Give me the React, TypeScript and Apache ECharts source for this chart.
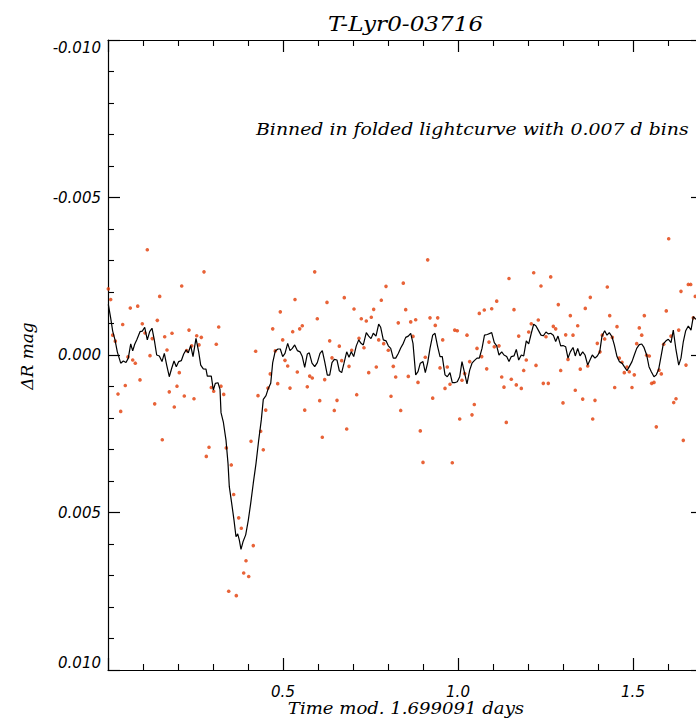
import React, { useEffect, useRef } from "react";
import * as echarts from "echarts";

const TITLE = "T-Lyr0-03716";
const NOTE = "Binned in folded lightcurve with 0.007 d bins";
const X_NAME = "Time mod. 1.699091 days";
const Y_NAME = "ΔR mag";

// individual binned points (phase-folded time [d], ΔR [mag])
const DOT_X = [
  0.0009, 0.0077, 0.0134, 0.0209, 0.0286, 0.0363, 0.042, 0.0494, 0.0571, 0.0637,
  0.0706, 0.078, 0.0849, 0.0914, 0.098, 0.1057, 0.1123, 0.12, 0.1266, 0.1334,
  0.1409, 0.1477, 0.1551, 0.162, 0.1686, 0.1751, 0.1829, 0.1894, 0.1971, 0.2037,
  0.2106, 0.218, 0.2249, 0.2314, 0.2391, 0.2457, 0.2534, 0.26, 0.2666, 0.2743,
  0.2809, 0.2886, 0.2951, 0.302, 0.3094, 0.3163, 0.3229, 0.3306, 0.338, 0.3449,
  0.3523, 0.3591, 0.3666, 0.3734, 0.3809, 0.3877, 0.3943, 0.402, 0.4086, 0.4151,
  0.422, 0.4286, 0.4363, 0.4437, 0.4506, 0.4571, 0.4637, 0.4706, 0.478, 0.4849,
  0.4923, 0.4991, 0.5057, 0.5134, 0.52, 0.5277, 0.5343, 0.5409, 0.5477, 0.5551,
  0.562, 0.5694, 0.5763, 0.5837, 0.5906, 0.598, 0.6049, 0.6123, 0.6191, 0.6257,
  0.6334, 0.64, 0.6466, 0.6543, 0.6609, 0.6677, 0.6751, 0.682, 0.6886, 0.6963,
  0.7029, 0.7106, 0.7171, 0.7237, 0.7314, 0.738, 0.7449, 0.7523, 0.7591, 0.7666,
  0.7734, 0.7809, 0.7877, 0.7943, 0.8009, 0.8086, 0.8151, 0.822, 0.8294, 0.8363,
  0.8437, 0.8506, 0.858, 0.8649, 0.8714, 0.8791, 0.8857, 0.8923, 0.9, 0.9066,
  0.9134, 0.92, 0.9277, 0.9351, 0.942, 0.9486, 0.9563, 0.9629, 0.9694, 0.9771,
  0.9837, 0.9906, 0.998, 1.0049, 1.0114, 1.0191, 1.0257, 1.0334, 1.04, 1.0466,
  1.0543, 1.0609, 1.0677, 1.0751, 1.082, 1.0886, 1.0963, 1.1037, 1.1106, 1.1171,
  1.1249, 1.1314, 1.138, 1.1457, 1.1523, 1.16, 1.1666, 1.1734, 1.1809, 1.1877,
  1.1951, 1.202, 1.2094, 1.2163, 1.2229, 1.2294, 1.2371, 1.2437, 1.2514, 1.258,
  1.2649, 1.2723, 1.2791, 1.2866, 1.2934, 1.3, 1.3077, 1.3143, 1.3209, 1.3286,
  1.3351, 1.342, 1.3494, 1.3563, 1.3637, 1.3706, 1.378, 1.3849, 1.3914, 1.398,
  1.4057, 1.4123, 1.4191, 1.4266, 1.4334, 1.4409, 1.4477, 1.4543, 1.4609, 1.4686,
  1.4751, 1.4829, 1.4894, 1.4971, 1.5037, 1.5106, 1.518, 1.5249, 1.5323, 1.5391,
  1.5466, 1.5534, 1.56, 1.5666, 1.5743, 1.5809, 1.5877, 1.5951, 1.602, 1.6086,
  1.6163, 1.6229, 1.6306, 1.6371, 1.6437, 1.6514, 1.658, 1.6649, 1.6723, 1.678,
];

const DOT_Y = [
  -0.0021, -0.00176, -0.00063, -0.00044, 0.00124, 0.00179, -0.00097, 0.00097, 0.00006, -0.00149,
  0.00016, 0.00026, -0.00155, 0.00079, -0.00099, -0.0007, -0.00334, 0.00002, -0.00052, 0.00155,
  -0.0011, -0.00186, 0.00269, -0.00058, -0.00016, 0.00117, -0.00069, 0.00165, 0.00099, 0.00056,
  -0.00219, 0.0013, -0.00014, -0.00079, -0.00029, 0.00139, -0.00061, -0.00032, -0.00056, -0.00264,
  0.00322, 0.00293, 0.00103, 0.00115, -0.00034, -0.00089, 0.00099, 0.00125, 0.00295, 0.0075,
  0.00349, 0.00443, 0.00764, 0.00517, 0.0055, 0.00692, 0.00653, 0.00703, 0.00274, 0.00605,
  -0.00012, 0.00129, 0.00242, 0.00301, 0.00175, 0.00105, 0.0006, -0.00083, -0.00013, 0.00091,
  -0.00137, -0.00048, 0.00017, 0.00035, 0.00105, -0.00074, -0.00176, 0.00054, -0.00083, -0.00093,
  0.00175, 0.00101, 0.00067, 0.00073, -0.00264, -0.00115, 0.00145, 0.00261, 0.00078, -0.00167,
  -0.00045, 0.00009, 0.00176, 0.00144, -0.00028, 0.00018, -0.00182, 0.00235, 0.00036, -0.00015,
  -0.00146, 0.00126, -0.00053, -0.00115, -0.00023, -0.00108, 0.00056, -0.0012, -0.00145, 0.00038,
  -0.00048, -0.00174, -0.00036, -0.00218, -0.00015, 0.00131, 0.00036, 0.0007, -0.00102, 0.00176,
  -0.00228, -0.00144, 0.00068, -0.00105, -0.00059, -0.00112, 0.00087, 0.00241, 0.00341, 0.00007,
  -0.00302, -0.00118, 0.00137, -0.00094, -0.00118, 0.00041, -0.00048, 0.00106, 0.00038, 0.00093,
  0.00342, -0.00079, -0.00077, 0.00203, 0.0008, 0.00059, -0.00063, 0.00021, 0.0019, 0.00157,
  -0.00021, -0.00132, 0.00005, -0.00143, 0.00044, -0.00041, -0.00147, -0.00026, -0.00171, -0.00029,
  0.0007, 0.00102, 0.00214, -0.00243, 0.00077, -0.00144, 0.00095, -0.0006, 0.00106, 0.00049,
  0.00016, -0.00073, -0.00099, -0.00261, 0.00033, -0.00111, -0.00219, 0.0009, -0.00058, 0.0009,
  -0.00248, -0.00091, -0.00083, -0.0016, 0.00049, 0.00152, -0.00064, 0.00014, -0.00125, -0.00063,
  0.00112, -0.00093, 0.00045, 0.0014, -0.00148, 0.00035, -0.00183, 0.00203, 0.00144, -0.00037,
  -0.0001, -0.00063, -0.00051, -0.00216, -0.00125, -0.00056, 0.00103, -0.0009, 0.0001, 0.00023,
  0.00056, 0.00038, 0.00053, 0.00103, 0.00063, -0.00036, -0.00086, -0.00063, -0.00125, 0.00001,
  0.00003, 0.0009, 0.00087, 0.00228, 0.00048, 0.0006, -0.00034, -0.0014, -0.00369, -0.0006,
  0.00151, 0.00139, -0.00079, -0.00202, 0.00271, 0.00032, -0.00224, -0.00224, -0.00118, -0.00186,
];

// smoothed binned light curve
const LINE_X = [
  0.0009, 0.0077, 0.0134, 0.02, 0.0266, 0.0363, 0.0437, 0.0514, 0.058, 0.0649,
  0.0706, 0.0763, 0.0829, 0.0914, 0.098, 0.1049, 0.1123, 0.1191, 0.1257, 0.1323,
  0.1391, 0.1466, 0.1543, 0.1609, 0.1677, 0.1751, 0.182, 0.1886, 0.1951, 0.202,
  0.2094, 0.2163, 0.2229, 0.2294, 0.2363, 0.2429, 0.2514, 0.2591, 0.2649, 0.2723,
  0.28, 0.2837, 0.2951, 0.3009, 0.3066, 0.3143, 0.32, 0.3229, 0.3294, 0.3371,
  0.3429, 0.3466, 0.3534, 0.36, 0.3657, 0.3706, 0.3751, 0.38, 0.3857, 0.3934,
  0.4009, 0.4077, 0.4151, 0.4229, 0.4306, 0.438, 0.4437, 0.4514, 0.458, 0.4649,
  0.4706, 0.478, 0.4857, 0.4923, 0.4991, 0.5057, 0.5134, 0.52, 0.5266, 0.5334,
  0.5409, 0.5486, 0.5551, 0.562, 0.5694, 0.5751, 0.5829, 0.5906, 0.598, 0.6057,
  0.6123, 0.6191, 0.6266, 0.6334, 0.64, 0.6466, 0.6543, 0.6609, 0.6677, 0.6743,
  0.682, 0.6886, 0.6951, 0.702, 0.7094, 0.7163, 0.7229, 0.7294, 0.738, 0.7449,
  0.7514, 0.758, 0.7657, 0.7734, 0.7791, 0.7866, 0.7943, 0.8009, 0.8077, 0.8151,
  0.822, 0.8294, 0.8363, 0.8437, 0.8506, 0.858, 0.8649, 0.8714, 0.8791, 0.8857,
  0.8923, 0.9, 0.9066, 0.9134, 0.92, 0.9277, 0.9343, 0.942, 0.9486, 0.9551,
  0.9629, 0.9694, 0.9771, 0.9837, 0.9906, 0.998, 1.0049, 1.0114, 1.0191, 1.0257,
  1.0334, 1.04, 1.0466, 1.0543, 1.0609, 1.0686, 1.0757, 1.0837, 1.0963, 1.1037,
  1.1106, 1.1171, 1.1249, 1.1314, 1.1391, 1.1457, 1.1523, 1.16, 1.1666, 1.1734,
  1.1809, 1.1877, 1.1951, 1.202, 1.2094, 1.2163, 1.2229, 1.2294, 1.2371, 1.2437,
  1.2514, 1.258, 1.2649, 1.2723, 1.2791, 1.2857, 1.2934, 1.3, 1.3077, 1.3143,
  1.3209, 1.3286, 1.3351, 1.342, 1.3486, 1.3563, 1.3629, 1.3706, 1.3771, 1.3837,
  1.3914, 1.398, 1.4049, 1.4114, 1.4191, 1.4257, 1.4323, 1.44, 1.4466, 1.4543,
  1.4609, 1.4686, 1.4751, 1.4829, 1.4894, 1.4971, 1.5037, 1.5106, 1.518, 1.5249,
  1.5314, 1.5391, 1.5457, 1.5523, 1.56, 1.5666, 1.5734, 1.58, 1.5866, 1.5943,
  1.6009, 1.6086, 1.6151, 1.6229, 1.6306, 1.6371, 1.6437, 1.6506, 1.658, 1.6657,
  1.6723, 1.68,
];

const LINE_Y = [
  -0.00161, -0.00117, -0.00076, -0.00048, -0.0001, 0.00026, 0.00019, 0.00024, 0.0001, -0.00035,
  -0.00013, -0.00034, -0.0005, -0.00074, -0.00076, -0.00088, -0.00048, -0.00074, -0.00085, -0.00048,
  0.0, 0.00003, 0.00021, -0.00005, 0.00032, 0.00069, 0.00042, 0.00019, 0.00037, 0.00021,
  0.00018, -0.00003, -0.00016, -0.00007, -0.0003, 0.00005, -0.00053, -0.0001, 0.00032, 0.00044,
  0.00045, 0.00067, 0.00067, 0.00111, 0.0009, 0.00088, 0.00109, 0.00183, 0.00212, 0.0027,
  0.00344, 0.00418, 0.00471, 0.00524, 0.00577, 0.00568, 0.00587, 0.00617, 0.00593, 0.00571,
  0.00524, 0.00471, 0.00407, 0.00344, 0.0027, 0.00206, 0.00141, 0.00129, 0.00106, 0.0009,
  0.00024, -0.00013, -0.00019, -0.00019, 0.00005, -0.00005, -0.00037, -0.00014, -0.00021, -0.00032,
  -0.00014, -0.0001, 0.00005, 0.00039, -0.00003, -0.00007, 0.00026, 0.00037, 0.00024, -0.00005,
  -0.00014, 0.00021, 0.00064, 0.00064, 0.00024, 0.00014, 0.00016, 0.0005, 0.00056, 0.00026,
  -0.0001, 0.00007, -0.0001, 0.00005, -0.00029, -0.00048, -0.00037, -0.00032, -0.00071, -0.0006,
  -0.00052, -0.00069, -0.0006, -0.00098, -0.00088, -0.00048, -0.00045, -0.00029, -0.00021, 0.0001,
  0.0001, -0.00005, -0.00022, -0.00037, -0.00056, -0.0006, -0.00069, -0.00037, 0.00063, 0.00053,
  0.00026, 0.00021, 0.00056, 0.00024, -0.00021, -0.00063, -0.00069, -0.00026, 0.00005, 0.00005,
  0.00063, 0.00069, 0.00056, 0.00088, 0.00088, 0.00085, 0.00069, 0.00021, 0.00058, 0.00092,
  0.00048, 0.00026, 0.00018, 0.0001, 0.0001, -0.00021, -0.00063, -0.00065, -0.00071, -0.00039,
  -0.00029, 0.0, -0.0001, 0.0, 0.00005, 0.00021, 0.00005, 0.00003, -0.00018, 0.00016,
  0.0, 0.00003, -0.00045, -0.00035, -0.00069, -0.00098, -0.00092, -0.00079, -0.00063, -0.00061,
  -0.00073, -0.00067, -0.00069, -0.00063, -0.00043, -0.0006, -0.00029, -0.0003, -0.00026, 0.0001,
  -0.0001, -0.00024, 0.00003, -0.00021, 0.00003, -0.0001, 0.0, 0.00032, 0.00016, 0.0,
  0.0001, 0.00003, -0.0001, -0.0006, -0.00077, -0.00063, -0.00071, -0.00058, -0.00032, 0.00005,
  0.00021, 0.00026, 0.00037, 0.0005, 0.00037, 0.00021, 0.0, -0.00021, -0.00033, -0.00035,
  -0.00024, 0.0, 0.00037, 0.00053, 0.00069, 0.00063, 0.00045, 0.00005, -0.00035, -0.00045,
  -0.0005, -0.00039, -0.00079, -0.00016, 0.00032, 0.0001, -0.00042, -0.00077, -0.00092, -0.00079,
  -0.00122, -0.00113,
];

const Y_MIN = -0.01;
const Y_MAX = 0.01;
const Y_STEP = 0.005;
const X_MIN = 0;
const X_MAX = 2.0;
const X_STEP = 0.5;
const X_TICK_LABELS = ["0.5", "1.0", "1.5"];

const SANS = "DejaVu Sans";
const SERIF = "DejaVu Serif";

export default function App() {
  const ref = useRef<HTMLDivElement>(null);

  useEffect(() => {
    if (!ref.current) return;
    const chart = echarts.init(ref.current, undefined, { renderer: "svg" });

    const dots = DOT_X.map((x, i) => [x, DOT_Y[i]]);
    const line = LINE_X.map((x, i) => [x, LINE_Y[i]]);

    const axisLine = { show: true, onZero: false, lineStyle: { color: "#000", width: 1.2 } };
    const axisTick = { show: true, inside: true, length: 12, lineStyle: { color: "#000", width: 1.2 } };
    const minorTick = { show: true, splitNumber: 5, length: 6, lineStyle: { color: "#000", width: 1.1 } };
    const labelStyle = { fontFamily: SANS, fontStyle: "italic", fontSize: 15, color: "#000" };

    const xFmt = (v: number) => {
      const s = v.toFixed(1);
      return X_TICK_LABELS.indexOf(s) >= 0 ? s : "";
    };
    const yFmt = (v: number) => v.toFixed(3);

    chart.setOption({
      animation: false,
      backgroundColor: "#ffffff",
      grid: [
        { left: 108, top: 40, width: 700, height: 630, outerBoundsMode: "none", containLabel: false },
        { left: 108, top: 40, width: 595, height: 630, outerBoundsMode: "none", containLabel: false },
      ],
      xAxis: [
        {
          type: "value", gridIndex: 0, position: "bottom",
          min: X_MIN, max: X_MAX, interval: X_STEP,
          axisLine, axisTick, minorTick, splitLine: { show: false },
          axisLabel: { ...labelStyle, margin: 14, formatter: xFmt },
        },
        {
          type: "value", gridIndex: 0, position: "top",
          min: X_MIN, max: X_MAX, interval: X_STEP,
          axisLine, axisTick, minorTick, splitLine: { show: false },
          axisLabel: { show: false },
        },
        {
          type: "value", gridIndex: 1, show: false, min: X_MIN, max: 1.7,
        },
      ],
      yAxis: [
        {
          type: "value", gridIndex: 0, position: "left", inverse: true,
          min: Y_MIN, max: Y_MAX, interval: Y_STEP,
          axisLine, axisTick, minorTick, splitLine: { show: false },
          axisLabel: {
            ...labelStyle, margin: 7, formatter: yFmt,
            verticalAlignMinLabel: "top", verticalAlignMaxLabel: "bottom",
          },
        },
        {
          type: "value", gridIndex: 1, position: "right", inverse: true,
          min: Y_MIN, max: Y_MAX, interval: Y_STEP,
          axisLine, axisTick, minorTick, splitLine: { show: false },
          axisLabel: { show: false },
        },
      ],
      series: [
        {
          type: "scatter", xAxisIndex: 0, yAxisIndex: 0,
          data: dots, symbol: "circle", symbolSize: 3.6,
          itemStyle: { color: "#e23c06" },
          emphasis: { disabled: true },
        },
        {
          type: "line", xAxisIndex: 0, yAxisIndex: 0,
          data: line, symbol: "none", showSymbol: false,
          lineStyle: { color: "#000", width: 1.2 },
          emphasis: { disabled: true },
        },
      ],
      graphic: [
        {
          type: "text", x: 405.5, y: 24, scaleX: 1.1,
          style: {
            text: TITLE, fontFamily: SERIF, fontStyle: "italic", fontSize: 21,
            fill: "#000", align: "center", verticalAlign: "middle",
          },
        },
        {
          type: "text", x: 256, y: 130, scaleX: 1.18,
          style: {
            text: NOTE, fontFamily: SERIF, fontStyle: "italic", fontSize: 16,
            fill: "#000", align: "left", verticalAlign: "middle",
          },
        },
        {
          type: "text", x: 406, y: 708, scaleX: 1.13,
          style: {
            text: X_NAME, fontFamily: SERIF, fontStyle: "italic", fontSize: 16,
            fill: "#000", align: "center", verticalAlign: "middle",
          },
        },
        {
          type: "text", x: 28, y: 356, rotation: Math.PI / 2, scaleX: 1.06,
          style: {
            text: Y_NAME, fontFamily: SERIF, fontStyle: "italic", fontSize: 16,
            fill: "#000", align: "center", verticalAlign: "middle",
          },
        },
      ],
    });

    return () => chart.dispose();
  }, []);

  return (
    <div
      ref={ref}
      style={{ position: "fixed", left: 0, top: 0, width: 696, height: 719, background: "#fff" }}
    />
  );
}
